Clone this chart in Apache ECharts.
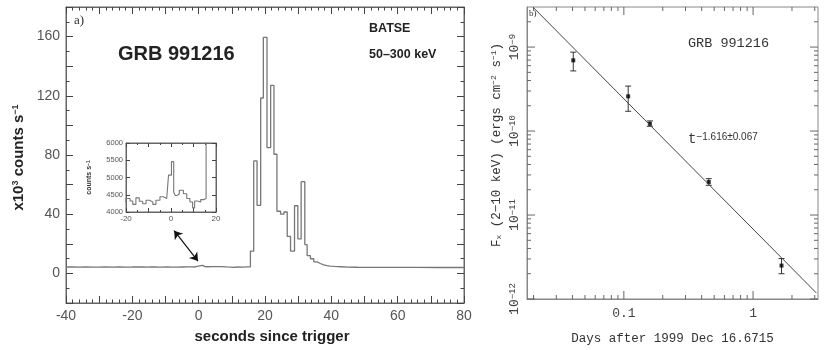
<!DOCTYPE html>
<html>
<head>
<meta charset="utf-8">
<script src="https://cdn.jsdelivr.net/npm/echarts@6/dist/echarts.min.js"></script>
<style>
  html, body { margin: 0; background: #fff; }
  #main { width: 830px; height: 350px; }
</style>
</head>
<body>
<div id="main"></div>
<script>
// BATSE light curve, bin start times (s) and rates (x10^3 counts/s)
let preTime = [-40, -38, -36, -34, -32, -30, -28, -26, -24, -22];
let preRate = [4.32, 4.28, 4.35, 4.3, 4.26, 4.33, 4.3, 4.36, 4.29, 4.31];

let quietTime = [-20, -18.2, -17.0, -15.6, -14.1, -12.6, -11.1, -9.6, -8.1, -6.7, -4.9, -3.4, -1.9,
  -1.1, 0.2, 1.2, 1.9, 2.8, 3.7, 5.5, 7.0, 8.4, 9.6, 10.5, 11.7, 13.2, 14.7];
let quietRate = [4.39, 4.32, 4.22, 4.41, 4.31, 4.24, 4.34, 4.29, 4.22, 4.34, 4.44, 4.39, 4.34,
  5.07, 5.46, 4.58, 4.48, 4.53, 4.63, 4.53, 4.39, 4.29, 4.12, 4.32, 4.29, 4.36, 4.39];

let burstTime = [15.6, 16.6, 17.6, 18.7, 19.5, 20.6, 21.7, 22.7, 23.6, 24.7, 25.7, 26.7, 27.7,
  28.9, 29.9, 30.9, 32.0, 32.7, 33.7, 34.7, 35.7, 36.7, 37.7, 38.7, 39.7, 41, 43, 45, 48, 55, 65, 72, 80];
let burstRate = [15, 76, 46, 118.5, 159.5, 85, 127, 80.5, 42, 40, 41.5, 25, 15,
  45.7, 23.3, 62, 19.5, 12, 9.9, 7.8, 6.7, 5.8, 5.2, 4.9, 4.7, 4.5, 4.3, 4.15, 4.1, 4.05, 4.0, 4.0, 4.0];

let lcTime = preTime.concat(quietTime, burstTime);
let lcRate = preRate.concat(quietRate, burstRate);

// arrow from the inset to t=0 (s, x10^3 counts/s)
let arrowFrom = [-7.4, 28.9];
let arrowTo = [-0.2, 8.3];

// X-ray afterglow (days, erg cm^-2 s^-1)
let xrtDays = [0.0406, 0.108, 0.159, 0.454, 1.66];
let xrtFlux = [6.95e-10, 2.59e-10, 1.22e-10, 2.47e-11, 2.5e-12];
let xrtLow = [5.2e-10, 1.72e-10, 1.14e-10, 2.26e-11, 2.0e-12];
let xrtHigh = [8.7e-10, 3.43e-10, 1.32e-10, 2.71e-11, 3.03e-12];

// power law fit t^-1.616 drawn between two ends
let fitDays = [0.0198, 3.09];
let fitFlux = [2.99e-9, 1.18e-12];

// log axis tick marks of panel b
let daysTicks = [0.02, 0.03, 0.04, 0.05, 0.06, 0.07, 0.08, 0.09, 0.1, 0.2, 0.3, 0.4, 0.5, 0.6, 0.7, 0.8, 0.9, 1, 2, 3];
let fluxTicks = [1e-12, 2e-12, 3e-12, 4e-12, 5e-12, 6e-12, 7e-12, 8e-12, 9e-12,
  1e-11, 2e-11, 3e-11, 4e-11, 5e-11, 6e-11, 7e-11, 8e-11, 9e-11,
  1e-10, 2e-10, 3e-10, 4e-10, 5e-10, 6e-10, 7e-10, 8e-10, 9e-10, 1e-9, 2e-9];

let myChart = echarts.init(document.getElementById("main"));

const sans = "Liberation Sans";
const mono = "Liberation Mono";
const frame = "#666";

function isDecade(v) {
  let l = Math.log10(v);
  return Math.abs(l - Math.round(l)) < 1e-6;
}

// ticks for the log axes, drawn inside on both sides of the frame
function tickItem(isX) {
  return function (params, api) {
    let cs = params.coordSys;
    let v = api.value(isX ? 0 : 1);
    let len = isDecade(v) ? 8 : 4;
    let style = { stroke: "#666", lineWidth: 1 };
    let p = api.coord([isX ? v : 0.1, isX ? 1e-10 : v]);
    if (isX) {
      let b = cs.y + cs.height;
      return { type: "group", children: [
        { type: "line", shape: { x1: p[0], y1: b, x2: p[0], y2: b - len }, style: style },
        { type: "line", shape: { x1: p[0], y1: cs.y, x2: p[0], y2: cs.y + len }, style: style }
      ] };
    }
    let r = cs.x + cs.width;
    return { type: "group", children: [
      { type: "line", shape: { x1: cs.x, y1: p[1], x2: cs.x + len, y2: p[1] }, style: style },
      { type: "line", shape: { x1: r, y1: p[1], x2: r - len, y2: p[1] }, style: style }
    ] };
  };
}

function linAxis(grid, pos, min, max, interval, every, minor, opts) {
  let ax = {
    type: "value", gridIndex: grid, position: pos, min: min, max: max, interval: interval,
    splitLine: { show: false },
    axisLine: { show: true, onZero: false, lineStyle: { color: frame } },
    axisTick: { show: true, inside: true, length: opts.tick, lineStyle: { color: "#444", width: 1 } },
    minorTick: { show: true, splitNumber: minor, length: opts.tick / 2, lineStyle: { color: "#444", width: 1 } },
    axisLabel: {
      show: opts.labels,
      margin: opts.margin,
      color: "#555",
      fontFamily: sans,
      fontSize: opts.font,
      formatter: (v) => (Math.round(v) % every === 0 ? String(v) : "")
    }
  };
  return Object.assign(ax, opts.extra || {});
}

let supStyle = (size) => ({ fontSize: size, verticalAlign: "top", fontWeight: "bold", fontFamily: sans, color: "#333" });

let options = {
  animation: false,
  grid: [
    { left: 66, top: 7, width: 398, height: 296, show: true, borderColor: frame, borderWidth: 1 },
    { left: 126, top: 143, width: 90, height: 69, show: true, borderColor: frame, borderWidth: 1, backgroundColor: "#fff" },
    { left: 527, top: 7, width: 291, height: 292, show: true, borderColor: "#888", borderWidth: 1 }
  ],
  xAxis: [
    linAxis(0, "bottom", -40, 80, 10, 20, 5, { tick: 7, labels: true, margin: 6, font: 14, extra: {
      name: "seconds since trigger", nameLocation: "middle", nameGap: 26,
      nameTextStyle: { fontFamily: sans, fontWeight: "bold", fontSize: 15, color: "#222", padding: [0, 0, 0, 14] }
    } }),
    linAxis(0, "top", -40, 80, 10, 20, 5, { tick: 7, labels: false, margin: 6, font: 14 }),
    linAxis(1, "bottom", -20, 20, 10, 20, 2, { tick: 4, labels: true, margin: 3, font: 8 }),
    linAxis(1, "top", -20, 20, 10, 20, 2, { tick: 4, labels: false, margin: 3, font: 8 }),
    {
      type: "log", gridIndex: 2, min: 0.0178, max: 3.18, logBase: 10,
      splitLine: { show: false },
      axisLine: { show: true, lineStyle: { color: "#888" } },
      axisTick: { show: false },
      axisLabel: {
        showMinLabel: false, showMaxLabel: false, margin: 8, color: "#444",
        fontFamily: mono, fontSize: 13,
        formatter: (v) => (isDecade(v) ? String(+v.toPrecision(3)) : "")
      },
      name: "Days after 1999 Dec 16.6715", nameLocation: "middle", nameGap: 33,
      nameTextStyle: { fontFamily: mono, fontSize: 12.5, color: "#333" }
    }
  ],
  yAxis: [
    linAxis(0, "left", -20, 180, 20, 40, 2, { tick: 7, labels: true, margin: 6, font: 14, extra: {
      name: "x10{sup|3} counts s{sup|−1}", nameLocation: "middle", nameGap: 40,
      nameTextStyle: { fontFamily: sans, fontWeight: "bold", fontSize: 15, color: "#222",
        padding: [0, 5, 0, 0], rich: { sup: supStyle(9) } }
    } }),
    linAxis(0, "right", -20, 180, 20, 40, 2, { tick: 7, labels: false, margin: 6, font: 14 }),
    linAxis(1, "left", 4000, 6000, 500, 500, 1, { tick: 4, labels: true, margin: 3, font: 7.5, extra: {
      minorTick: { show: false },
      name: "counts s{sup|−1}", nameLocation: "middle", nameGap: 33,
      nameTextStyle: { fontFamily: sans, fontWeight: "bold", fontSize: 7, color: "#333", rich: { sup: supStyle(5) } }
    } }),
    linAxis(1, "right", 4000, 6000, 500, 500, 1, { tick: 4, labels: false, margin: 3, font: 8, extra: { minorTick: { show: false } } }),
    {
      type: "log", gridIndex: 2, min: 1e-12, max: 3e-9, logBase: 10,
      splitLine: { show: false },
      axisLine: { show: true, lineStyle: { color: "#888" } },
      axisTick: { show: false },
      axisLabel: {
        showMinLabel: true, showMaxLabel: false, rotate: 90, margin: 6, color: "#444",
        fontFamily: mono, fontSize: 13,
        formatter: (v) => (isDecade(v) ? "10{sup|−" + Math.round(-Math.log10(v)) + "}" : ""),
        rich: { sup: { fontSize: 9, verticalAlign: "top", fontFamily: mono, color: "#444" } }
      },
      name: "F{sub|x} (2−10 keV) (ergs cm{sup|−2} s{sup|−1})", nameLocation: "middle", nameGap: 24,
      nameTextStyle: {
        fontFamily: mono, fontSize: 12.5, color: "#333", padding: [0, 0, 0, 16],
        rich: {
          sup: { fontSize: 8, verticalAlign: "top", fontFamily: mono, color: "#333" },
          sub: { fontSize: 8, verticalAlign: "bottom", fontFamily: mono, color: "#333" }
        }
      }
    }
  ],
  series: [
    {
      type: "line", xAxisIndex: 0, yAxisIndex: 0, step: "end", showSymbol: false,
      data: lcTime.map((t, i) => [t, lcRate[i]]),
      lineStyle: { color: "#777", width: 1.3 }
    },
    {
      type: "line", xAxisIndex: 2, yAxisIndex: 2, step: "end", showSymbol: false,
      data: lcTime.map((t, i) => [t, lcRate[i] * 1000]),
      lineStyle: { color: "#777", width: 1.1 }
    },
    {
      type: "lines", coordinateSystem: "cartesian2d", xAxisIndex: 0, yAxisIndex: 0,
      data: [{ coords: [arrowFrom, arrowTo] }],
      symbol: ["arrow", "arrow"], symbolSize: 8,
      lineStyle: { color: "#111", width: 1.2, opacity: 1 }
    },
    {
      type: "line", xAxisIndex: 4, yAxisIndex: 4, showSymbol: false,
      data: fitDays.map((d, i) => [d, fitFlux[i]]),
      lineStyle: { color: "#444", width: 1 }
    },
    {
      type: "custom", xAxisIndex: 4, yAxisIndex: 4,
      data: xrtDays.map((d, i) => [d, xrtLow[i], xrtHigh[i]]),
      encode: { x: 0, y: [1, 2] },
      renderItem: function (params, api) {
        let lo = api.coord([api.value(0), api.value(1)]);
        let hi = api.coord([api.value(0), api.value(2)]);
        let st = { stroke: "#333", lineWidth: 1 };
        return { type: "group", children: [
          { type: "line", shape: { x1: lo[0], y1: lo[1], x2: hi[0], y2: hi[1] }, style: st },
          { type: "line", shape: { x1: lo[0] - 3, y1: lo[1], x2: lo[0] + 3, y2: lo[1] }, style: st },
          { type: "line", shape: { x1: hi[0] - 3, y1: hi[1], x2: hi[0] + 3, y2: hi[1] }, style: st }
        ] };
      }
    },
    {
      type: "scatter", xAxisIndex: 4, yAxisIndex: 4, symbol: "rect", symbolSize: 4,
      data: xrtDays.map((d, i) => [d, xrtFlux[i]]),
      itemStyle: { color: "#000" }
    },
    {
      type: "custom", xAxisIndex: 4, yAxisIndex: 4, silent: true,
      data: daysTicks.map((d) => [d, 1e-10]),
      encode: { x: 0, y: 1 },
      renderItem: tickItem(true)
    },
    {
      type: "custom", xAxisIndex: 4, yAxisIndex: 4, silent: true,
      data: fluxTicks.map((f) => [0.1, f]),
      encode: { x: 0, y: 1 },
      renderItem: tickItem(false)
    }
  ],
  graphic: [
    { type: "text", left: 74, top: 14, style: { text: "a)", fontFamily: "Liberation Serif", fontSize: 13, fill: "#333" } },
    { type: "text", left: 118, top: 44, style: { text: "GRB 991216", fontFamily: sans, fontWeight: "bold", fontSize: 20, fill: "#222" } },
    { type: "text", left: 369, top: 22, style: { text: "BATSE", fontFamily: sans, fontWeight: "bold", fontSize: 12.5, fill: "#222" } },
    { type: "text", left: 369, top: 48, style: { text: "50–300 keV", fontFamily: sans, fontWeight: "bold", fontSize: 12.5, fill: "#222" } },
    { type: "text", left: 529, top: 9, style: { text: "b)", fontFamily: "Liberation Serif", fontSize: 9, fill: "#333" } },
    { type: "text", left: 688, top: 36, style: { text: "GRB 991216", fontFamily: mono, fontSize: 13.5, fill: "#333" } },
    {
      type: "text", left: 688, top: 132,
      style: {
        text: "t{s|−1.616±0.067}", fontFamily: mono, fontSize: 14, fill: "#333",
        rich: { s: { fontFamily: sans, fontSize: 10, verticalAlign: "top", fill: "#333", color: "#333" } }
      }
    }
  ]
};

myChart.setOption(options);
</script>
</body>
</html>
